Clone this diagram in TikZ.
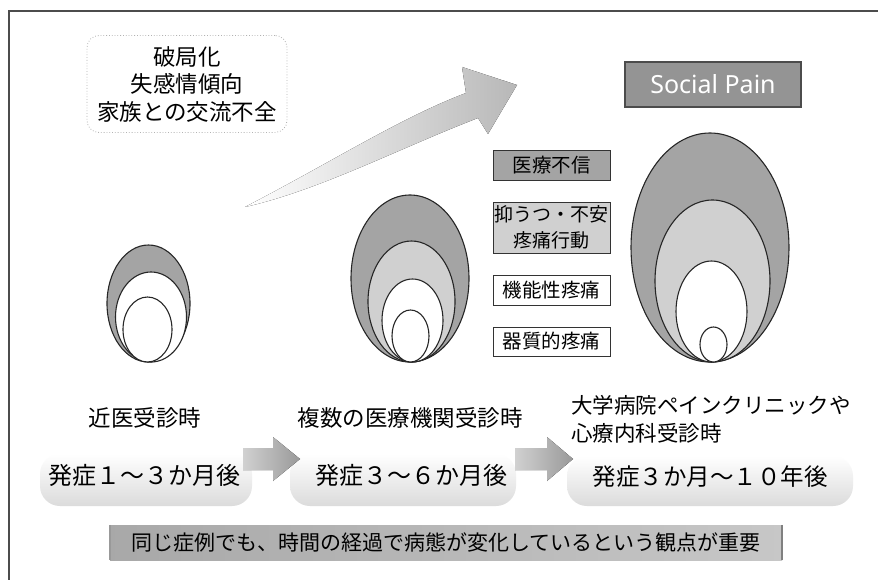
\documentclass[tikz,border=0pt]{standalone}
\usepackage{fontspec}
\setmainfont{Noto Sans CJK JP}
\newfontfamily\latinsans{Noto Sans}
\usetikzlibrary{shapes.geometric}
\definecolor{dg}{HTML}{A4A4A4}
\definecolor{lg}{HTML}{D0D0D0}
\begin{document}
\begin{tikzpicture}[x=1pt,y=-1pt,
  ell/.style={ellipse, draw=black!85, line width=1.1pt, inner sep=0pt, outer sep=0pt},
  lab/.style={draw=black!80, line width=0.9pt, minimum width=117pt, inner sep=0pt, align=center, font=\fontsize{19.5}{22}\selectfont},
  cloudbox/.style={rounded corners=20pt, top color=white, bottom color=black!14, draw=none, inner sep=0pt},
  bigtxt/.style={font=\fontsize{22.5}{27.5}\selectfont, inner sep=0pt, align=center},
  ontxt/.style={font=\fontsize{24}{28}\selectfont, inner sep=0pt},
  blockarrow/.style={left color=black!18, right color=black!40, draw=none}
]
\useasboundingbox (0,0) rectangle (878,580);
\fill[white] (0,0) rectangle (878,580);
% frame
\draw[line width=1.5pt, black!70] (9,580) -- (9,11) -- (878,11);

% top-left box
\node[bigtxt, draw=black!30, dotted, line width=0.8pt, rounded corners=12pt, minimum width=200pt, minimum height=97pt] (tl) at (187,84) {破局化\\失感情傾向\\家族との交流不全};

% big rising arrow
\coordinate (bt) at (245,207);
\coordinate (bh) at (517,85);
\fill[left color=white, right color=black!28]
  (bt) .. controls (330,163) and (400,118) .. (466,93)
  -- (462,67) -- (bh) -- (488,134) -- (478,118)
  .. controls (400,148) and (320,190) .. (bt) -- cycle;

% Social Pain
\node[draw=black!70, line width=2pt, fill=black!42, minimum width=176pt, minimum height=45pt, text=white, font=\latinsans\fontsize{25}{28}\selectfont] (sp) at (713,84.5) {Social Pain};

% label boxes
\node[lab, fill=dg, minimum height=30pt] (l1) at (551.5,165) {医療不信};
\node[lab, fill=lg, minimum height=51pt, font=\fontsize{19}{26}\selectfont] (l2) at (551.5,227.5) {抑うつ・不安\\疼痛行動};
\node[lab, fill=white, minimum height=30pt] (l3) at (551.5,290) {機能性疼痛};
\node[lab, fill=white, minimum height=29pt] (l4) at (551.5,341.5) {器質的疼痛};

% small ellipses
\node[ell, fill=dg, minimum width=83pt, minimum height=117pt] (a1) at (148.5,303.5) {};
\node[ell, fill=white, minimum width=71pt, minimum height=90pt] (a2) at (151,317) {};
\node[ell, fill=white, minimum width=49pt, minimum height=65pt] (a3) at (147.5,329.5) {};

% middle ellipses
\node[ell, fill=dg, minimum width=118pt, minimum height=167pt] (m1) at (410,278.5) {};
\node[ell, fill=lg, minimum width=87pt, minimum height=121pt] (m2) at (411.5,301.5) {};
\node[ell, fill=white, minimum width=61pt, minimum height=83pt] (m3) at (412.5,320.5) {};
\node[ell, fill=white, minimum width=37pt, minimum height=52pt] (m4) at (410.5,336) {};

% large ellipses
\node[ell, fill=dg, minimum width=158pt, minimum height=229pt] (r1) at (710,247.5) {};
\node[ell, fill=lg, minimum width=115pt, minimum height=162pt] (r2) at (712.5,281) {};
\node[ell, fill=white, minimum width=71pt, minimum height=101pt] (r3) at (711.5,311.5) {};
\node[ell, fill=white, minimum width=27pt, minimum height=35pt] (r4) at (713.5,344.5) {};

% stage labels
\node[bigtxt] (s1) at (145,418) {近医受診時};
\node[bigtxt] (s2) at (410,418) {複数の医療機関受診時};
\node[bigtxt, anchor=west, align=left, font=\fontsize{21.5}{28}\selectfont] (s3) at (571,419) {大学病院ペインクリニックや\\心療内科受診時};

% clouds
\node[cloudbox, minimum width=212pt, minimum height=52pt] (c1) at (146,480) {};
\node[cloudbox, minimum width=226pt, minimum height=52pt] (c2) at (403,480) {};
\node[cloudbox, minimum width=286pt, minimum height=50pt] (c3) at (710,481) {};

\node[ontxt] (o1) at (144,475) {発症１～３か月後};
\node[ontxt] (o2) at (411,475) {発症３～６か月後};
\node[ontxt, font=\fontsize{23.5}{28}\selectfont] (o3) at (710,477) {発症３か月～１０年後};

% block arrows between stages
\fill[blockarrow] (243,448) -- (273,448) -- (273,437) -- (300,459) -- (273,481) -- (273,470) -- (243,470) -- cycle;
\fill[blockarrow] (515,448) -- (547,448) -- (547,437) -- (573,459) -- (547,481) -- (547,470) -- (515,470) -- cycle;

% bottom banner
\node[left color=black!34, right color=black!22, draw=none, minimum width=672pt, minimum height=35pt, inner sep=0pt, font=\fontsize{21}{24}\selectfont] (bn) at (446,542.5) {同じ症例でも、時間の経過で病態が変化しているという観点が重要};
\draw[black!50, line width=1.5pt] (bn.north east) -- (bn.south east);
\draw[black!40, line width=1.5pt] (bn.north west) -- (bn.south west);
\end{tikzpicture}
\end{document}
